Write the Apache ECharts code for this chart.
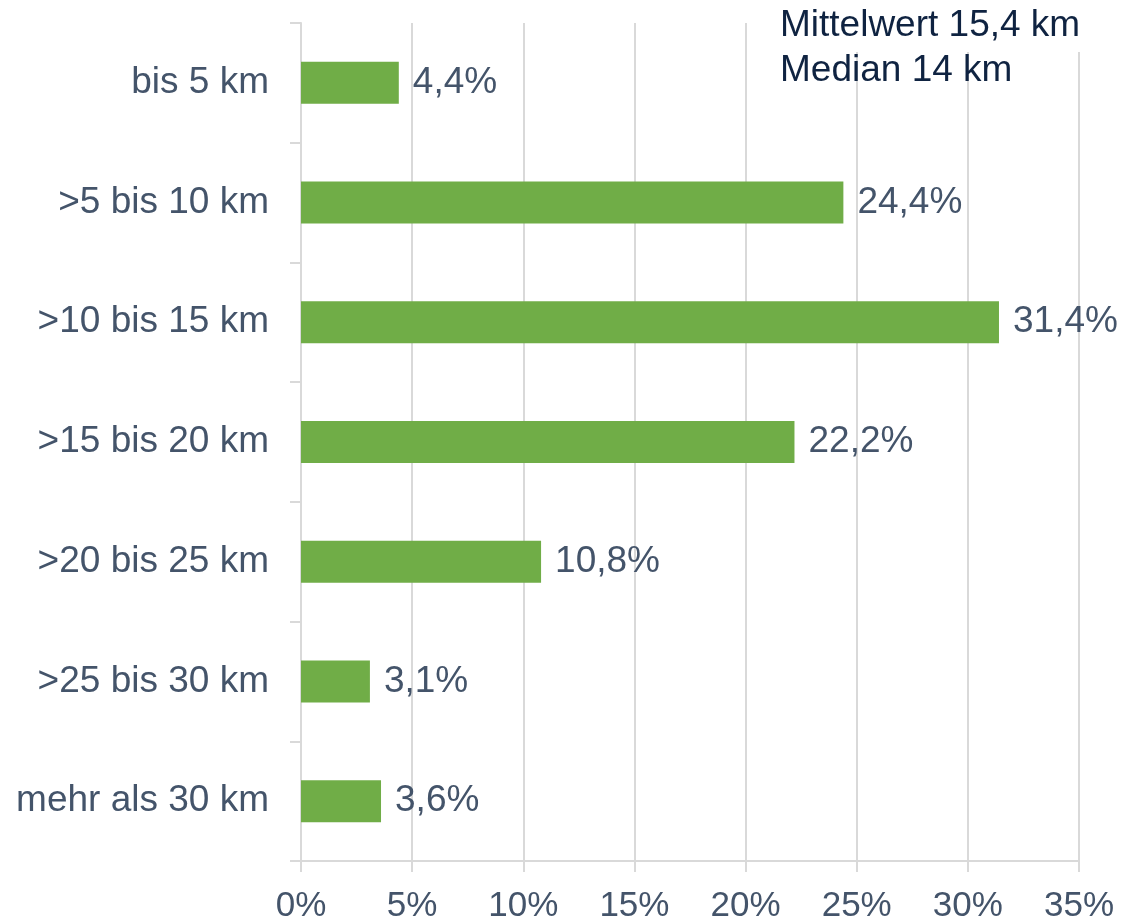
<!DOCTYPE html>
<html>
<head>
<meta charset="utf-8">
<script src="https://cdn.jsdelivr.net/npm/echarts@6/dist/echarts.min.js"></script>
<style>
  html, body { margin: 0; padding: 0; background: #fff; }
  #chart { width: 1125px; height: 924px; }
</style>
</head>
<body>
<div id="chart"></div>
<script>
// Entfernungsklassen (von oben nach unten)
const categories = ['bis 5 km', '>5 bis 10 km', '>10 bis 15 km', '>15 bis 20 km', '>20 bis 25 km', '>25 bis 30 km', 'mehr als 30 km']
const shares = [4.4, 24.4, 31.4, 22.2, 10.8, 3.1, 3.6] // Anteil in %
const noteLines = ['Mittelwert 15,4 km', 'Median 14 km']

const gridColor = '#d9d9d9'
const textColor = '#44546a'
const font = 'Liberation Sans, Arial, sans-serif'

const chart = echarts.init(document.getElementById('chart'))
chart.setOption({
  animation: false,
  grid: {
    left: 301,
    right: 46,
    top: 23,
    bottom: 61,
    containLabel: false
  },
  xAxis: {
    type: 'value',
    min: 0,
    max: 35,
    interval: 5,
    axisLine: { show: true, lineStyle: { color: gridColor, width: 2 } },
    axisTick: { show: true, length: 11, lineStyle: { color: gridColor, width: 2 } },
    splitLine: { show: true, lineStyle: { color: gridColor, width: 2 } },
    axisLabel: {
      formatter: '{value}%',
      color: textColor,
      fontFamily: font,
      fontSize: 35,
      margin: 28
    }
  },
  yAxis: {
    type: 'category',
    data: categories,
    inverse: true,
    axisLine: { show: true, lineStyle: { color: gridColor, width: 2 } },
    axisTick: { show: true, length: 11, lineStyle: { color: gridColor, width: 2 } },
    axisLabel: {
      color: textColor,
      fontFamily: font,
      fontSize: 37,
      margin: 32
    }
  },
  series: [{
    type: 'bar',
    data: shares,
    barWidth: 42,
    itemStyle: { color: '#70ad47' },
    label: {
      show: true,
      position: 'right',
      distance: 14,
      color: textColor,
      fontFamily: font,
      fontSize: 37,
      formatter: p => p.value.toFixed(1).replace('.', ',') + '%'
    }
  }],
  graphic: [
    {
      // weißer Hintergrund des Textfelds verdeckt die Gitterlinien oben
      type: 'rect',
      z: 10,
      shape: { x: 770, y: 0, width: 330, height: 52 },
      style: { fill: '#fff' }
    },
    {
      type: 'text',
      z: 11,
      left: 780,
      top: 3,
      style: {
        text: noteLines.join('\n'),
        fill: '#0f2341',
        font: '37px ' + font,
        lineHeight: 45
      }
    }
  ]
})
</script>
</body>
</html>
